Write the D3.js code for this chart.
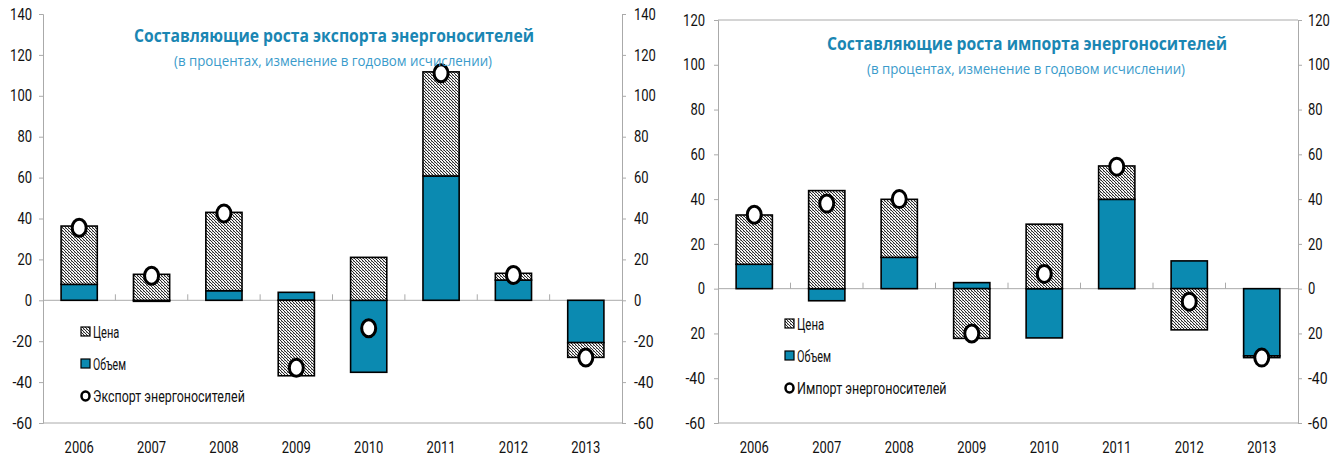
<!DOCTYPE html>
<html>
<head>
<meta charset="utf-8">
<script src="https://cdn.jsdelivr.net/npm/d3@7"></script>
<style>
  body { margin: 0; background: #fff; }
  svg { display: block; }
  .tick text, .cat, .leg { font-family: "Roboto", sans-serif; fill: #111; }
  .ttl { font-family: "Open Sans", sans-serif; font-weight: bold; fill: #1a86b3; }
  .sub { font-family: "Open Sans", sans-serif; fill: #3a9bcb; }
</style>
</head>
<body>
<svg width="1343" height="458"></svg>
<script>
// years on the category axis
var years = ["2006", "2007", "2008", "2009", "2010", "2011", "2012", "2013"];

// export chart
var exportVolume = [7.8, -0.5, 4.7, 3.9, -35.2, 60.8, 9.9, -20.7];
var exportPrice  = [28.5, 12.7, 38.3, -36.9, 21.0, 50.9, 3.3, -7.2];
var exportTotal  = [35.5, 12.0, 42.5, -33.0, -13.7, 111.0, 12.4, -28.0];
var exportTicks  = [-60, -40, -20, 0, 20, 40, 60, 80, 100, 120, 140];
var exportTickLabels = ["-60", "-40", "-20", "0", "20", "40", "60", "80", "100", "120", "140"];

// import chart
var importVolume = [10.9, -5.4, 14.0, 2.7, -22.0, 39.9, 12.4, -30.0];
var importPrice  = [22.0, 43.8, 25.9, -22.2, 28.8, 14.9, -18.4, -0.8];
var importTotal  = [33.0, 38.0, 40.0, -20.0, 6.6, 54.5, -5.8, -30.8];
var importTicks  = [-60, -40, -20, 0, 20, 40, 60, 80, 100, 120];
var importTickLabels = ["-60", "-40", "20", "0", "20", "40", "60", "80", "100", "120"];

var legendNames = ["Цена", "Объем"];
var blue = "#0b8ab1";

var svg = d3.select("svg");

// fine diagonal texture for the price bars
var defs = svg.append("defs");
var pat = defs.append("pattern")
    .attr("id", "hatch")
    .attr("patternUnits", "userSpaceOnUse")
    .attr("width", 3).attr("height", 3);
pat.append("rect").attr("width", 3).attr("height", 3).attr("fill", "#f4f4f4");
[[0, 0], [1, 1], [2, 2]].forEach(function (p) {
  pat.append("rect").attr("x", p[0]).attr("y", p[1]).attr("width", 1).attr("height", 1).attr("fill", "#2a2a2a");
});
pat.append("rect").attr("x", 2).attr("y", 0).attr("width", 1).attr("height", 1).attr("fill", "#9a9a9a");

// narrow look for the numbers, like the source
function narrow(sel) {
  sel.attr("textLength", function () {
    var t = this.textContent;
    return t.replace(/-/g, "").length * 7.3 + (t.indexOf("-") >= 0 ? 5 : 0);
  }).attr("lengthAdjust", "spacingAndGlyphs");
}

function drawChart(o) {
  var g = svg.append("g");

  var x = d3.scaleBand().domain(years).range([o.left, o.right]);
  var y = d3.scaleLinear().domain(o.domain).range([o.bottom, o.top]);

  var rows = years.map(function (yr, i) {
    return { year: yr, volume: o.volume[i], price: o.price[i], total: o.total[i] };
  });
  var stack = d3.stack().keys(["volume", "price"]).offset(d3.stackOffsetDiverging);
  var series = stack(rows);

  // frame
  var frame = g.append("g").attr("stroke", "#aaa").attr("stroke-width", 1).attr("fill", "none");
  frame.append("line").attr("x1", o.left).attr("x2", o.right).attr("y1", o.bottom).attr("y2", o.bottom);
  if (o.topLine) frame.append("line").attr("x1", o.left).attr("x2", o.right).attr("y1", o.top).attr("y2", o.top);

  // axes
  var yl = d3.axisLeft(y).tickValues(o.ticks).tickSize(4).tickPadding(o.padL)
      .tickFormat(function (d, i) { return o.tickLabels[i]; });
  var yr = d3.axisRight(y).tickValues(o.ticks).tickSize(4).tickPadding(o.padR)
      .tickFormat(function (d, i) { return o.tickLabels[i]; });
  [g.append("g").attr("transform", "translate(" + o.left + ",0)").call(yl),
   g.append("g").attr("transform", "translate(" + o.right + ",0)").call(yr)].forEach(function (a) {
    a.select(".domain").attr("stroke", "#aaa");
    a.selectAll(".tick line").attr("stroke", "#aaa");
    a.selectAll(".tick text").attr("font-size", 16).attr("fill", "#111").call(narrow);
  });

  // zero line and category ticks
  frame.append("line").attr("x1", o.left).attr("x2", o.right).attr("y1", y(0)).attr("y2", y(0));
  years.slice(1).forEach(function (yr2) {
    frame.append("line").attr("x1", x(yr2)).attr("x2", x(yr2)).attr("y1", y(0)).attr("y2", y(0) - 6);
  });

  // bars
  var bw = x.bandwidth() * 0.5;
  g.selectAll(".ser").data(series).enter().append("g")
      .attr("fill", function (d) { return d.key === "volume" ? blue : "url(#hatch)"; })
    .selectAll("rect").data(function (d) { return d; }).enter().append("rect")
      .attr("x", function (d) { return x(d.data.year) + (x.bandwidth() - bw) / 2; })
      .attr("width", bw)
      .attr("y", function (d) { return y(Math.max(d[0], d[1])); })
      .attr("height", function (d) { return Math.abs(y(d[0]) - y(d[1])); })
      .attr("stroke", "#000").attr("stroke-width", 1.6);

  // total markers
  g.selectAll(".mk").data(rows).enter().append("ellipse")
      .attr("cx", function (d) { return x(d.year) + x.bandwidth() / 2; })
      .attr("cy", function (d) { return y(d.total); })
      .attr("rx", 7).attr("ry", 8.5)
      .attr("fill", "#fff").attr("stroke", "#000").attr("stroke-width", 3);

  // category labels
  g.selectAll(".cat").data(years).enter().append("text")
      .attr("class", "cat")
      .attr("x", function (d) { return x(d) + x.bandwidth() / 2; })
      .attr("y", o.bottom + 30)
      .attr("text-anchor", "middle")
      .attr("font-size", 16)
      .text(function (d) { return d; })
      .call(narrow);

  // titles
  g.append("text").attr("class", "ttl")
      .attr("x", o.titleX).attr("y", o.titleY)
      .attr("font-size", 17)
      .attr("textLength", 400).attr("lengthAdjust", "spacingAndGlyphs")
      .text(o.title);
  g.append("text").attr("class", "sub")
      .attr("x", o.titleX + 40).attr("y", o.titleY + 24)
      .attr("font-size", 15)
      .attr("textLength", 318).attr("lengthAdjust", "spacingAndGlyphs")
      .text("(в процентах, изменение в годовом исчислении)");

  // legend
  var lg = g.append("g").attr("transform", "translate(" + o.legX + "," + o.legY + ")");
  var names = legendNames.concat([o.totalName]);
  names.forEach(function (n, i) {
    var cy = i * 32;
    if (i < 2) {
      lg.append("rect").attr("x", 0).attr("y", cy - 5).attr("width", 9).attr("height", 9)
          .attr("fill", i === 0 ? "url(#hatch)" : blue)
          .attr("stroke", "#000").attr("stroke-width", 1.2);
    } else {
      lg.append("ellipse").attr("cx", 4.5).attr("cy", cy).attr("rx", 4).attr("ry", 4.5)
          .attr("fill", "#fff").attr("stroke", "#000").attr("stroke-width", 2.5);
    }
    lg.append("text").attr("class", "leg")
        .attr("x", 12).attr("y", cy + 5.5)
        .attr("font-size", 16)
        .attr("textLength", n.length * o.legCharW).attr("lengthAdjust", "spacingAndGlyphs")
        .text(n);
  });
}

drawChart({
  left: 43, right: 622, top: 14, bottom: 423,
  domain: [-60, 140], ticks: exportTicks, tickLabels: exportTickLabels,
  padL: 7, padR: 8, topLine: false,
  volume: exportVolume, price: exportPrice, total: exportTotal,
  title: "Составляющие роста экспорта энергоносителей", titleX: 134, titleY: 42,
  totalName: "Экспорт энергоносителей", legX: 81, legY: 332, legCharW: 6.6
});

drawChart({
  left: 718, right: 1298, top: 20, bottom: 423,
  domain: [-60, 120], ticks: importTicks, tickLabels: importTickLabels,
  padL: 9, padR: 6, topLine: true,
  volume: importVolume, price: importPrice, total: importTotal,
  title: "Составляющие роста импорта энергоносителей", titleX: 827, titleY: 50,
  totalName: "Импорт энергоносителей", legX: 785, legY: 324, legCharW: 6.8
});
</script>
</body>
</html>
